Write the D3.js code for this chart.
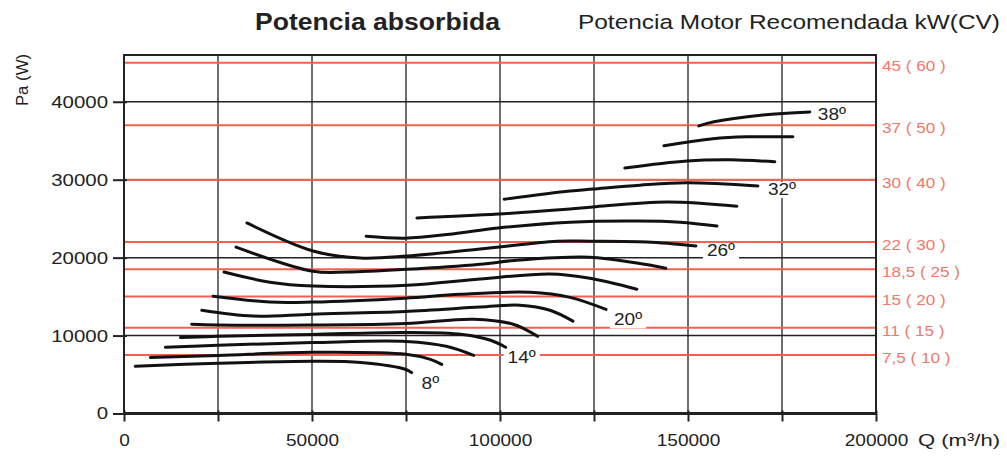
<!DOCTYPE html>
<html>
<head>
<meta charset="utf-8">
<script src="https://cdn.jsdelivr.net/npm/d3@7"></script>
<style>
  html, body { margin: 0; padding: 0; background: #fff; }
  svg { display: block; font-family: "Liberation Sans", Arial, Helvetica, sans-serif; }
</style>
</head>
<body>
<svg id="chart" width="1007" height="457"></svg>
<script>
// ---------- DATA ----------
const angles = [8, 10, 12, 14, 16, 18, 20, 22, 24, 26, 28, 30, 32, 34, 36, 38];
const labeledAngles = [8, 14, 20, 26, 32, 38];

// caudal Q (m3/h) for each curve
const flowQ = [
  [3000, 25000, 50000, 63000, 75000, 76500],
  [7000, 25000, 50000, 75000, 81500, 84500],
  [11000, 25000, 50000, 75000, 86000, 93000],
  [15000, 25000, 50000, 75000, 90000, 97500, 101500],
  [18000, 25000, 50000, 75000, 93000, 103500, 110000],
  [20700, 34300, 50000, 74700, 94700, 105300, 113300, 119400],
  [23700, 38800, 50000, 74700, 89400, 108000, 118600, 128200],
  [26600, 38800, 50300, 75300, 94700, 113300, 123900, 136400],
  [29800, 50300, 59300, 75300, 94700, 105300, 123900, 136400, 144100],
  [32700, 50300, 62800, 75300, 94700, 115200, 123900, 139100, 152100],
  [64400, 74700, 86700, 99500, 118600, 136400, 147900, 157700],
  [77900, 99500, 118600, 124700, 144400, 163000],
  [101100, 118600, 124700, 137200, 149700, 168600],
  [133200, 149700, 161200, 173100],
  [143600, 156600, 165700, 177900],
  [152900, 156600, 169900, 182400]
];
// potencia absorbida Pa (W) for each curve
const powerPa = [
  [6050, 6450, 6700, 6550, 5650, 5250],
  [7200, 7450, 7850, 7600, 6950, 6300],
  [8500, 8750, 9100, 9250, 8600, 7450],
  [9750, 9900, 10150, 10400, 10150, 9400, 8500],
  [11450, 11350, 11350, 11550, 12100, 11450, 9900],
  [13250, 12500, 12750, 13100, 13650, 13900, 13250, 11850],
  [15050, 14300, 14300, 14800, 15300, 15550, 14900, 13350],
  [18150, 16850, 16350, 16450, 17250, 17900, 17350, 15950],
  [21350, 18250, 18150, 18500, 19150, 19700, 20050, 19300, 18650],
  [24450, 20850, 19950, 20200, 21100, 22100, 22100, 22000, 21500],
  [22750, 22500, 23000, 23800, 24550, 24700, 24550, 24050],
  [25100, 25600, 26250, 26500, 27150, 26600],
  [27500, 28550, 28800, 29300, 29600, 29200],
  [31500, 32400, 32550, 32300],
  [34350, 35250, 35500, 35500],
  [36900, 37400, 38300, 38700]
];

const motorKW = [7.5, 11, 15, 18.5, 22, 30, 37, 45];
const motorCV = [10, 15, 20, 25, 30, 40, 50, 60];

const xTicks = [0, 50000, 100000, 150000, 200000];
const xGrid = [25000, 50000, 75000, 100000, 125000, 150000, 175000];
const yTicks = [0, 10000, 20000, 30000, 40000];

const titleText = "Potencia absorbida";
const rightTitleText = "Potencia Motor Recomendada kW(CV)";
const yAxisTitle = "Pa (W)";
const xAxisTitle = "Q (m³/h)";

// ---------- LAYOUT ----------
const svg = d3.select("#chart");
const pL = 124, pR = 876, pT = 55, pB = 413.5;
const x = d3.scaleLinear().domain([0, 200000]).range([pL, pR]);
const y = d3.scaleLinear().domain([0, 46000]).range([pB, pT]);

const RED = "#f2604f";
const RED_TXT = "#f0786a";
const FONT = "'Liberation Sans', Arial, Helvetica, sans-serif";

function stretch(sel, f) {
  sel.each(function () {
    const w = this.getComputedTextLength();
    this.setAttribute("textLength", w * f);
    this.setAttribute("lengthAdjust", "spacingAndGlyphs");
  });
}

// vertical gridlines
svg.append("g").selectAll("line").data(xGrid).join("line")
  .attr("x1", d => x(d)).attr("x2", d => x(d))
  .attr("y1", pT).attr("y2", pB)
  .attr("stroke", "#4a4a4a").attr("stroke-width", 1.6);

// horizontal black gridlines
svg.append("g").selectAll("line").data(yTicks.filter(d => d > 0)).join("line")
  .attr("x1", pL).attr("x2", pR)
  .attr("y1", d => y(d)).attr("y2", d => y(d))
  .attr("stroke", "#222").attr("stroke-width", 1.5);

// red motor lines
svg.append("g").selectAll("line").data(motorKW).join("line")
  .attr("x1", pL).attr("x2", pR)
  .attr("y1", d => y(d * 1000)).attr("y2", d => y(d * 1000))
  .attr("stroke", RED).attr("stroke-width", 2);

// curves
const line = d3.line().x(d => x(d[0])).y(d => y(d[1])).curve(d3.curveCatmullRom.alpha(0.5));
const curves = angles.map((a, i) => ({ angle: a, pts: flowQ[i].map((q, j) => [q, powerPa[i][j]]) }));
svg.append("g").selectAll("path").data(curves).join("path")
  .attr("d", d => line(d.pts))
  .attr("fill", "none").attr("stroke", "#111").attr("stroke-width", 3)
  .attr("stroke-linecap", "round");

// curve labels
const labelOffset = { 8: [10, 16], 14: [2, 16], 20: [8, 16], 26: [11, 10], 32: [10, 9], 38: [8, 8] };
const lblG = svg.append("g");
curves.filter(c => labeledAngles.includes(c.angle)).forEach(c => {
  const end = c.pts[c.pts.length - 1];
  const off = labelOffset[c.angle];
  const g = lblG.append("g");
  const t = g.append("text")
    .attr("x", x(end[0]) + off[0]).attr("y", y(end[1]) + off[1])
    .attr("font-size", 17).attr("fill", "#222").attr("font-family", FONT)
    .text(c.angle + "º");
  stretch(t, 1.12);
  const bb = t.node().getBBox();
  g.insert("rect", "text")
    .attr("x", bb.x - 4).attr("y", bb.y + 2).attr("width", bb.width + 8).attr("height", bb.height - 3)
    .attr("fill", "#fff");
});

// frame
svg.append("rect").attr("x", pL).attr("y", pT).attr("width", pR - pL).attr("height", pB - pT)
  .attr("fill", "none").attr("stroke", "#222").attr("stroke-width", 2);
svg.append("line").attr("x1", pL).attr("x2", pR).attr("y1", pB).attr("y2", pB)
  .attr("stroke", "#222").attr("stroke-width", 3);

// left axis
const yAxis = svg.append("g").attr("transform", `translate(${pL},0)`)
  .call(d3.axisLeft(y).tickValues(yTicks).tickSize(11).tickPadding(5).tickFormat(d3.format("d")));
yAxis.select(".domain").remove();
yAxis.selectAll(".tick line").attr("stroke", "#222").attr("stroke-width", 2).attr("x2", -11).attr("x1", 3);
yAxis.selectAll(".tick text").attr("font-size", 17).attr("font-family", FONT).attr("fill", "#222");
stretch(yAxis.selectAll(".tick text"), 1.2);

// bottom axis
const xAxis = svg.append("g").attr("transform", `translate(0,${pB})`)
  .call(d3.axisBottom(x).tickValues(d3.range(0, 200001, 25000)).tickSize(8).tickPadding(12)
    .tickFormat(d => xTicks.includes(d) ? d3.format("d")(d) : ""));
xAxis.select(".domain").remove();
xAxis.selectAll(".tick line").attr("stroke", "#222").attr("stroke-width", 2).attr("y1", -3);
xAxis.selectAll(".tick text").attr("font-size", 17).attr("font-family", FONT).attr("fill", "#222");
stretch(xAxis.selectAll(".tick text").filter(function () { return this.textContent !== ""; }), 1.12);

// right motor labels
const fmtKW = d => String(d).replace(".", ",");
const rl = svg.append("g").selectAll("text").data(motorKW).join("text")
  .attr("x", pR + 6).attr("y", d => y(d * 1000) + 8)
  .attr("font-size", 15).attr("font-family", FONT).attr("fill", RED_TXT)
  .text((d, i) => `${fmtKW(d)} ( ${motorCV[i]} )`);
stretch(rl, 1.14);

// titles
const t1 = svg.append("text").attr("x", 255).attr("y", 30)
  .attr("font-size", 24).attr("font-weight", "bold").attr("font-family", FONT).attr("fill", "#222")
  .text(titleText);
t1.attr("textLength", 245).attr("lengthAdjust", "spacingAndGlyphs");
const t2 = svg.append("text").attr("x", 578).attr("y", 29)
  .attr("font-size", 20.5).attr("font-family", FONT).attr("fill", "#222")
  .text(rightTitleText);
t2.attr("textLength", 422).attr("lengthAdjust", "spacingAndGlyphs");

// axis titles
const yt = svg.append("text").attr("transform", "translate(28,80) rotate(-90)")
  .attr("text-anchor", "middle").attr("font-size", 16).attr("font-family", FONT).attr("fill", "#222")
  .text(yAxisTitle);
stretch(yt, 1.05);
const xt = svg.append("text").attr("x", 918).attr("y", 446)
  .attr("font-size", 17).attr("font-family", FONT).attr("fill", "#222")
  .text(xAxisTitle);
xt.attr("textLength", 82).attr("lengthAdjust", "spacingAndGlyphs");
</script>
</body>
</html>
